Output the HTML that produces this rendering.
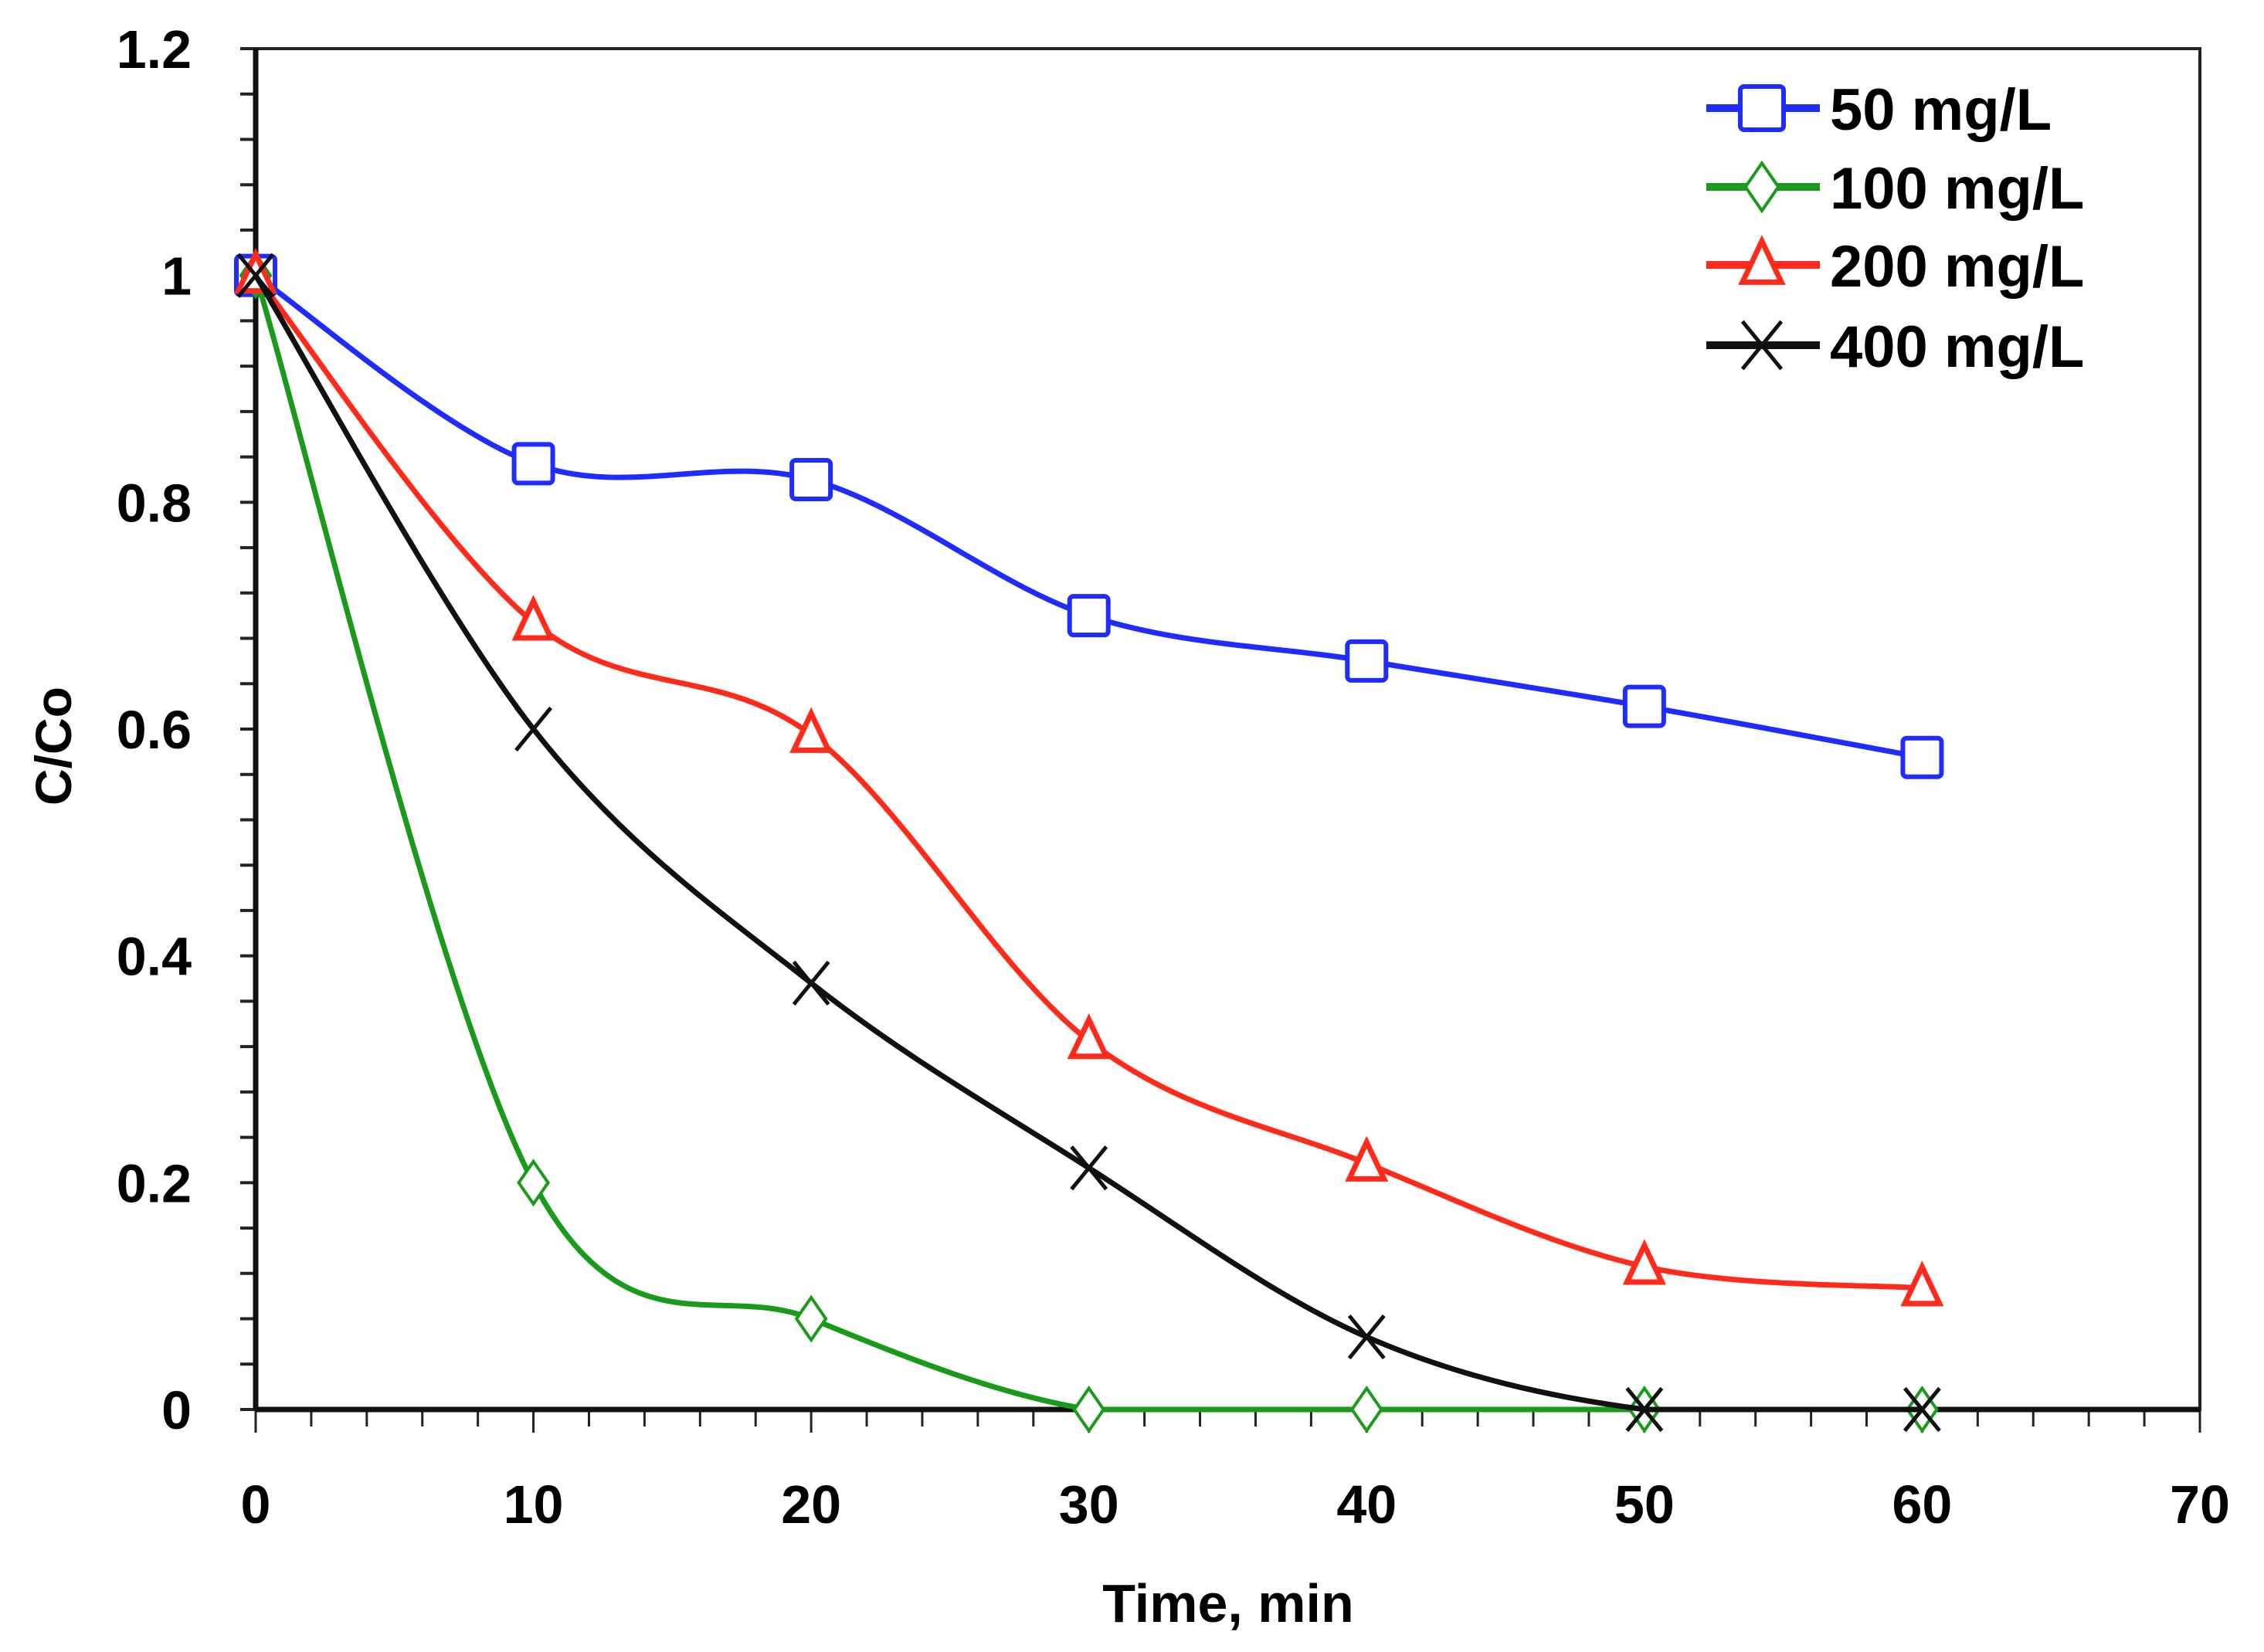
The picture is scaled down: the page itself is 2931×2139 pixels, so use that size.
<!DOCTYPE html>
<html><head><meta charset="utf-8"><style>
html,body{margin:0;padding:0;background:#fff;}
svg{display:block;}
text{font-family:"Liberation Sans",sans-serif;font-weight:bold;fill:#000;}
</style></head><body>
<svg id="chart" width="2931" height="2139" viewBox="0 0 2931 2139" xmlns="http://www.w3.org/2000/svg">
<g id="axes"></g>
<g id="series"></g>
<g id="legend"></g>
</svg>
<script>
const xValues = [0, 10, 20, 30, 40, 50, 60];
const seriesNames = ["50 mg/L", "100 mg/L", "200 mg/L", "400 mg/L"];
const blueValues = [1, 0.834, 0.82, 0.70, 0.66, 0.62, 0.575];
const greenValues = [1, 0.2, 0.08, 0, 0, 0, 0];
const redValues = [1, 0.694, 0.595, 0.325, 0.217, 0.126, 0.107];
const blackValues = [1, 0.60, 0.376, 0.213, 0.064, 0, 0];
const xTicks = [0, 10, 20, 30, 40, 50, 60, 70];
const yTicks = [0, 0.2, 0.4, 0.6, 0.8, 1, 1.2];
const yTickLabels = ["0", "0.2", "0.4", "0.6", "0.8", "1", "1.2"];

const NS = "http://www.w3.org/2000/svg";
const X0 = 331, X1 = 2848, Y0 = 1825, Y1 = 63;
function sx(v){ return X0 + (v - 0) / 70 * (X1 - X0); }
function sy(v){ return Y0 - v / 1.2 * (Y0 - Y1); }
function mk(tag, attrs, parent){
  const e = document.createElementNS(NS, tag);
  for (const k in attrs) e.setAttribute(k, attrs[k]);
  parent.appendChild(e);
  return e;
}
const axes = document.getElementById('axes');
const frame = mk('rect', {x:X0, y:Y1, width:X1-X0, height:Y0-Y1, fill:'none', stroke:'#222', 'stroke-width':4}, axes);


for (let v = 0; v <= 1.2001; v += 0.04) {
  const t = mk('line', {x1:X0-20, x2:X0, y1:sy(v), y2:sy(v), stroke:'#222', 'stroke-width':4}, axes);
  
  
}
for (let v = 0; v <= 70.001; v += 2) {
  const major = Math.abs(v % 10) < 0.01;
  const t = mk('line', {x1:sx(v), x2:sx(v), y1:Y0, y2:Y0 + (major ? 30 : 22), stroke:'#222', 'stroke-width':3}, axes);
  
  
}
const xa = mk('line', {x1:X0, x2:X1, y1:Y0, y2:Y0, stroke:'#111', 'stroke-width':7}, axes);


const ya = mk('line', {x1:X0, x2:X0, y1:Y0, y2:Y1, stroke:'#111', 'stroke-width':7}, axes);


xTicks.forEach(v => {
  const t = mk('text', {x:sx(v), y:1972, 'font-size':70, 'text-anchor':'middle'}, axes);
  t.textContent = String(v);
  
  
});
yTicks.forEach((v, i) => {
  const t = mk('text', {x:248, y:sy(v) + 25, 'font-size':70, 'text-anchor':'end'}, axes);
  t.textContent = yTickLabels[i];
  
  
});
const xt = mk('text', {x:1590, y:2100, 'font-size':70, 'text-anchor':'middle'}, axes);
xt.textContent = 'Time, min';


const yt = mk('text', {x:0, y:0, 'font-size':66, 'text-anchor':'middle', transform:'translate(92,966) rotate(-90)'}, axes);
yt.textContent = 'C/Co';



function smoothPath(pts){
  let d = 'M' + pts[0][0] + ',' + pts[0][1];
  const t = 1/6;
  for (let i = 0; i < pts.length - 1; i++) {
    const p0 = pts[i-1] || pts[i], p1 = pts[i], p2 = pts[i+1], p3 = pts[i+2] || p2;
    const c1 = [p1[0] + (p2[0]-p0[0])*t, Math.min(Y0, p1[1] + (p2[1]-p0[1])*t)];
    const c2 = [p2[0] - (p3[0]-p1[0])*t, Math.min(Y0, p2[1] - (p3[1]-p1[1])*t)];
    d += ' C' + c1 + ' ' + c2 + ' ' + p2;
  }
  return d;
}
function marker(g, type, cx, cy, color, s){
  let e;
  if (type === 'square') e = mk('rect', {x:cx-s/2, y:cy-s/2, width:s, height:s, rx:5, fill:'#fff', stroke:color, 'stroke-width':6}, g);
  else if (type === 'diamond') e = mk('polygon', {points:`${cx},${cy-s*0.55} ${cx+s*0.38},${cy} ${cx},${cy+s*0.55} ${cx-s*0.38},${cy}`, fill:'#fff', stroke:color, 'stroke-width':4}, g);
  else if (type === 'triangle') e = mk('polygon', {points:`${cx},${cy-s*0.55} ${cx+s*0.45},${cy+s*0.4} ${cx-s*0.45},${cy+s*0.4}`, fill:'#fff', stroke:color, 'stroke-width':7}, g);
  else { e = mk('path', {d:`M${cx-s*0.45},${cy-s*0.55} L${cx+s*0.45},${cy+s*0.55} M${cx+s*0.45},${cy-s*0.55} L${cx-s*0.45},${cy+s*0.55}`, stroke:color, 'stroke-width':5, fill:'none'}, g); }
  return e;
}
const seriesList = [
  {vals: blueValues, color:'#1f2cff', type:'square', name:'series-50'},
  {vals: greenValues, color:'#1a9a1a', type:'diamond', name:'series-100'},
  {vals: redValues, color:'#ff2a1a', type:'triangle', name:'series-200'},
  {vals: blackValues, color:'#111', type:'x', name:'series-400'}
];
const sg = document.getElementById('series');
seriesList.forEach(s => {
  const g = mk('g', {}, sg);
  
  
  const pts = xValues.map((x, i) => [sx(x), sy(s.vals[i])]);
  const p = mk('path', {d:smoothPath(pts), fill:'none', stroke:s.color, 'stroke-width':7}, g);
  
  
  pts.forEach(pt => {
    const m = marker(g, s.type, pt[0], pt[1], s.color, 50);
    
    
  });
});
const lg = document.getElementById('legend');
const legY = [140, 242, 343, 447];
seriesList.forEach((s, i) => {
  const g = mk('g', {}, lg);
  
  
  mk('line', {x1:2209, x2:2356, y1:legY[i], y2:legY[i], stroke:s.color, 'stroke-width':10}, g);
  marker(g, s.type, 2281, legY[i], s.color, 56);
  const t = mk('text', {x:2369, y:legY[i] + 28, 'font-size':76}, g);
  t.textContent = seriesNames[i];
});
</script>
</body></html>
